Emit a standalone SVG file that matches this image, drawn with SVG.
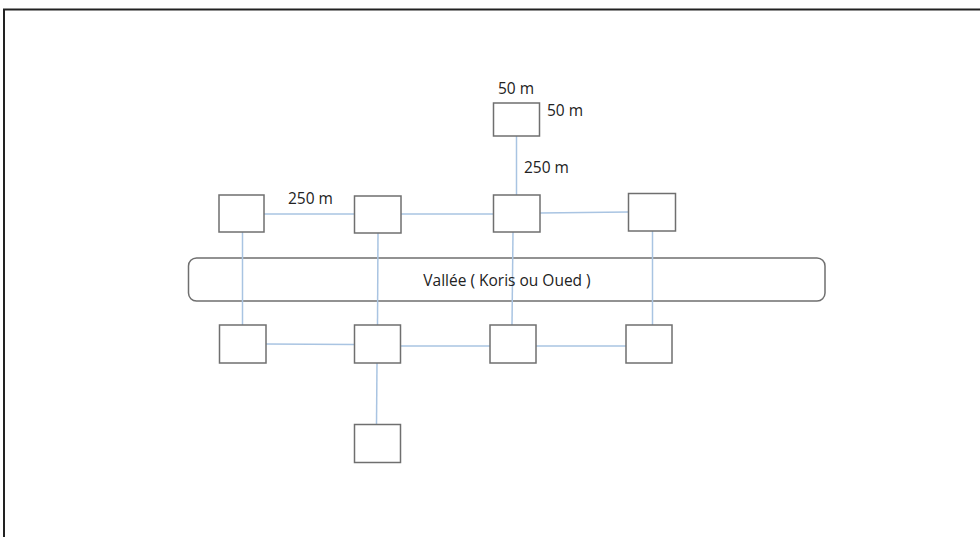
<svg xmlns="http://www.w3.org/2000/svg" width="980" height="537" viewBox="0 0 980 537">
<style>
.n{fill:#fff;stroke:#6f6f6f;stroke-width:1.5}
.c{stroke:#a9c4e2;stroke-width:1.5;fill:none}
.t{font-family:"Open Sans","Liberation Sans",sans-serif;font-size:15.5px;fill:#222}
</style>
<rect width="980" height="537" fill="#fff"/>
<path d="M4,537 V9.5 H980" fill="none" stroke="#222" stroke-width="2"/>
<g id="valley">
<rect x="188.5" y="258" width="636.5" height="43" rx="8" fill="#fff" stroke="#6f6f6f" stroke-width="1.5"/>
</g>
<g id="connectors">
<line class="c" x1="516.5" y1="136" x2="516.5" y2="195"/>
<line class="c" x1="264" y1="214" x2="354" y2="214"/>
<line class="c" x1="401" y1="214" x2="493" y2="214"/>
<line class="c" x1="540" y1="213" x2="628" y2="212"/>
<line class="c" x1="242.5" y1="232" x2="242.5" y2="325"/>
<line class="c" x1="378" y1="233" x2="377.5" y2="325"/>
<line class="c" x1="513" y1="232" x2="512" y2="325"/>
<line class="c" x1="652.5" y1="231" x2="652.5" y2="325"/>
<line class="c" x1="266" y1="344" x2="354" y2="344.5"/>
<line class="c" x1="400" y1="346" x2="490" y2="346"/>
<line class="c" x1="536" y1="346" x2="626" y2="346"/>
<line class="c" x1="377" y1="363" x2="376.5" y2="424"/>
</g>
<text class="t" x="507" y="285.5" text-anchor="middle">Vallée ( Koris ou Oued )</text>
<g id="n-top"><rect class="n" x="493.5" y="103" width="46" height="33"/></g>
<g id="n-r1-1"><rect class="n" x="219" y="195" width="45" height="37"/></g>
<g id="n-r1-2"><rect class="n" x="354.5" y="196" width="46.5" height="37"/></g>
<g id="n-r1-3"><rect class="n" x="493.5" y="195" width="46.5" height="37"/></g>
<g id="n-r1-4"><rect class="n" x="628.5" y="193.5" width="47" height="37.5"/></g>
<g id="n-r2-1"><rect class="n" x="219.5" y="325" width="46.5" height="38"/></g>
<g id="n-r2-2"><rect class="n" x="354.5" y="325" width="46" height="38"/></g>
<g id="n-r2-3"><rect class="n" x="490" y="325" width="46" height="38"/></g>
<g id="n-r2-4"><rect class="n" x="626" y="325" width="46" height="38"/></g>
<g id="n-bottom"><rect class="n" x="354.5" y="424.5" width="46" height="38"/></g>
<g id="labels">
<text class="t" x="498" y="93.5">50 m</text>
<text class="t" x="547" y="116">50 m</text>
<text class="t" x="524" y="173">250 m</text>
<text class="t" x="288" y="204">250 m</text>
</g>
</svg>
